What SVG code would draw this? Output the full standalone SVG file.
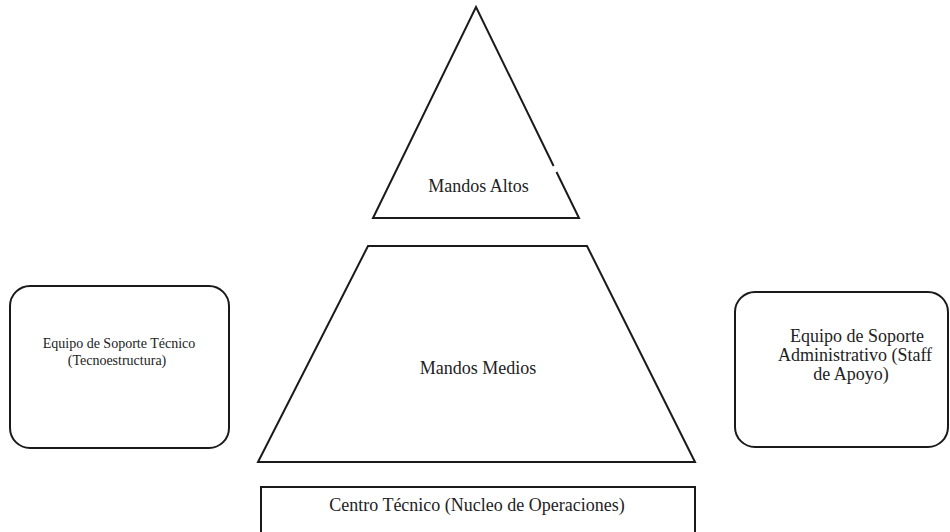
<svg xmlns="http://www.w3.org/2000/svg" width="950" height="532" viewBox="0 0 950 532">
<style>
.s{fill:#fff;stroke:#1a1a1a;stroke-width:2;stroke-linejoin:miter}
.t{font-family:"Liberation Serif","Times New Roman",serif;fill:#222;text-anchor:middle}
.b{font-size:18px}
.m{font-size:14px}
</style>
<rect width="950" height="532" fill="#fff"/>
<g id="mandos-altos">
<path class="s" d="M556.5,172 L579,218 L373,218 L476,7 L553.6,166" fill="#fff"/>
<text class="t b" x="478.5" y="192">Mandos Altos</text>
</g>
<g id="mandos-medios">
<polygon class="s" points="368,246 587,246 695,462 258,462"/>
<text class="t b" x="478" y="374">Mandos Medios</text>
</g>
<g id="centro-tecnico">
<rect class="s" x="261" y="487" width="434" height="60"/>
<text class="t b" x="477" y="511">Centro Técnico (Nucleo de Operaciones)</text>
</g>
<g id="tecnoestructura">
<rect class="s" x="10" y="286" width="219" height="162" rx="20" ry="20"/>
<text class="t m" x="119" y="348">Equipo de Soporte Técnico</text>
<text class="t m" x="117" y="365">(Tecnoestructura)</text>
</g>
<g id="staff-apoyo">
<rect class="s" x="735" y="292" width="213" height="155" rx="20" ry="20"/>
<text class="t b" x="857" y="342">Equipo de Soporte</text>
<text class="t b" x="855" y="361">Administrativo (Staff</text>
<text class="t b" x="851" y="380">de Apoyo)</text>
</g>
<g id="connectors"></g>
</svg>
